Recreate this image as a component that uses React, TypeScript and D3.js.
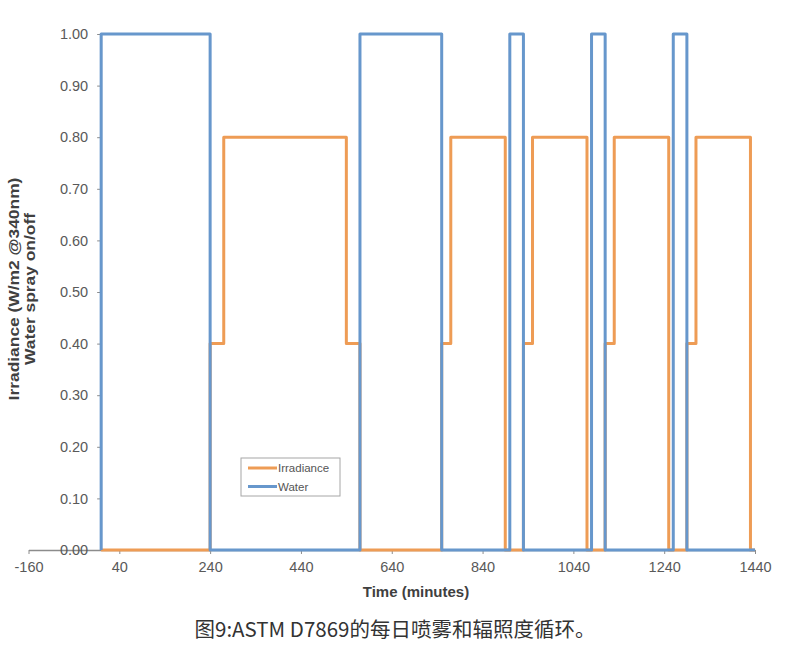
import { useEffect, useRef } from 'react';
import * as d3 from 'd3';

// breakpoints (minutes) and step values
const irradianceTimes = [0, 0, 240, 270, 540, 570, 750, 770, 890, 930, 950, 1070, 1110, 1130, 1250, 1290, 1310, 1430, 1440];
const irradianceValues = [0, 0, 0.4, 0.8, 0.4, 0, 0.4, 0.8, 0, 0.4, 0.8, 0, 0.4, 0.8, 0, 0.4, 0.8, 0, 0];
const waterTimes = [0, 0, 240, 570, 750, 900, 930, 1080, 1110, 1260, 1290, 1440];
const waterValues = [0, 1, 0, 1, 0, 1, 0, 1, 0, 1, 0, 0];

const xTicks = [-160, 40, 240, 440, 640, 840, 1040, 1240, 1440];
const yTicks = [0, 0.1, 0.2, 0.3, 0.4, 0.5, 0.6, 0.7, 0.8, 0.9, 1.0];

const seriesNames = ['Irradiance', 'Water'];
const seriesColors = ['#EE9C55', '#6797CC'];

export default function App() {
  const svgRef = useRef<SVGSVGElement>(null);

  useEffect(() => {
    if (!svgRef.current) return;
    const svg = d3.select(svgRef.current);
    svg.selectAll('*').remove();

    const x = d3.scaleLinear().domain([-160, 1440]).range([28.5, 755]);
    const y = d3.scaleLinear().domain([0, 1]).range([550, 34]);
    const font = '"Liberation Sans", Arial, sans-serif';

    // x axis along zero
    const xAxis = svg.append('g')
      .attr('transform', `translate(0,${y(0)})`)
      .call(d3.axisBottom(x).tickValues(xTicks).tickSize(4).tickSizeOuter(0).tickPadding(8).tickFormat(d => String(d)));
    xAxis.select('.domain').attr('stroke', '#8c8c8c').attr('stroke-width', 1.5);
    xAxis.selectAll('.tick line').attr('stroke', '#8c8c8c');
    xAxis.selectAll('text').attr('fill', '#595959').style('font-family', font).style('font-size', '14.5px');

    // y axis crosses at time 0
    const yAxis = svg.append('g')
      .attr('transform', `translate(${x(0)},0)`)
      .call(d3.axisLeft(y).tickValues(yTicks).tickSize(4).tickSizeOuter(0).tickPadding(9).tickFormat(d => (d as number).toFixed(2)));
    yAxis.select('.domain').attr('stroke', '#8c8c8c');
    yAxis.selectAll('.tick line').attr('stroke', '#8c8c8c');
    yAxis.selectAll('text').attr('fill', '#595959').style('font-family', font).style('font-size', '14.5px');

    const line = d3.line<[number, number]>()
      .x(d => x(d[0]))
      .y(d => y(d[1]))
      .curve(d3.curveStepAfter);

    const series: [number, number][][] = [
      irradianceTimes.map((t, i) => [t, irradianceValues[i]]),
      waterTimes.map((t, i) => [t, waterValues[i]]),
    ];

    series.forEach((pts, i) => {
      svg.append('path')
        .attr('d', line(pts))
        .attr('fill', 'none')
        .attr('stroke', seriesColors[i])
        .attr('stroke-width', 3)
        .attr('stroke-linejoin', 'round');
    });

    // legend
    const lg = svg.append('g').attr('transform', 'translate(241,458)');
    lg.append('rect')
      .attr('width', 99)
      .attr('height', 38)
      .attr('fill', '#fff')
      .attr('stroke', '#a6a6a6');
    seriesNames.forEach((name, i) => {
      const yy = 10 + i * 18.5;
      lg.append('line')
        .attr('x1', 7).attr('x2', 36)
        .attr('y1', yy).attr('y2', yy)
        .attr('stroke', seriesColors[i])
        .attr('stroke-width', 3);
      lg.append('text')
        .attr('x', 37)
        .attr('y', yy)
        .attr('dy', '0.35em')
        .attr('fill', '#555')
        .style('font-family', font)
        .style('font-size', '11.5px')
        .text(name);
    });

    // axis titles
    svg.append('text')
      .attr('x', 416)
      .attr('y', 597)
      .attr('text-anchor', 'middle')
      .attr('fill', '#404040')
      .style('font-family', font)
      .style('font-size', '15px')
      .style('font-weight', 'bold')
      .text('Time (minutes)');

    const yTitle = svg.append('text')
      .attr('transform', 'translate(0,289) rotate(-90) scale(1.16,1)')
      .attr('text-anchor', 'middle')
      .attr('fill', '#404040')
      .style('font-family', font)
      .style('font-size', '15px')
      .style('font-weight', 'bold');
    yTitle.append('tspan').attr('x', 0).attr('y', 19).text('Irradiance (W/m2 @340nm)');
    yTitle.append('tspan').attr('x', 0).attr('y', 35).text('Water spray on/off');

    // caption
    svg.append('text')
      .attr('x', 395)
      .attr('y', 637)
      .attr('text-anchor', 'middle')
      .attr('fill', '#333')
      .style('font-family', '"Noto Sans CJK SC", "Noto Sans", sans-serif')
      .style('font-size', '20.5px')
      .text('图9:ASTM D7869的每日喷雾和辐照度循环。');
  }, []);

  return (
    <div style={{ position: 'absolute', left: 0, top: 0 }}>
      <svg ref={svgRef} width={800} height={657} style={{ display: 'block', background: '#fff' }} />
    </div>
  );
}
